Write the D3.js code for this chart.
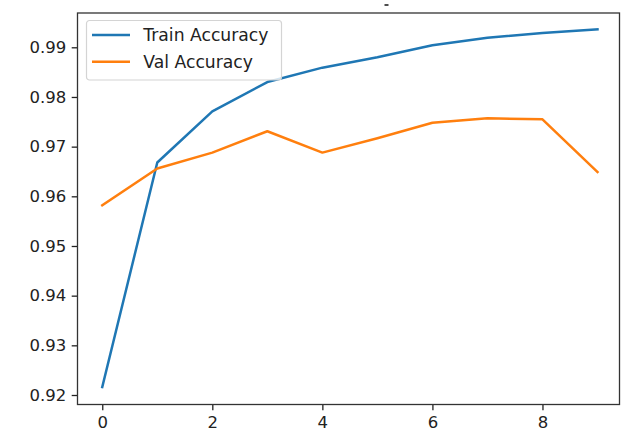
<!DOCTYPE html>
<html>
<head>
<meta charset="utf-8">
<script src="https://cdn.jsdelivr.net/npm/d3@7"></script>
<style>
  html, body { margin: 0; padding: 0; background: #fff; }
  svg { display: block; font-family: "DejaVu Sans", sans-serif; }
</style>
</head>
<body>
<svg id="chart" width="621" height="430"></svg>
<script>
// epochs and accuracy per epoch
const epochs = [0, 1, 2, 3, 4, 5, 6, 7, 8, 9];
const trainAcc = [0.9216, 0.9668, 0.9771, 0.9830, 0.9859, 0.9880, 0.9904, 0.9919, 0.9929, 0.9936];
const valAcc = [0.9582, 0.9656, 0.9688, 0.9731, 0.9688, 0.9717, 0.9748, 0.9757, 0.9755, 0.9649];
const xTicks = [0, 2, 4, 6, 8];
const yTicks = [0.92, 0.93, 0.94, 0.95, 0.96, 0.97, 0.98, 0.99];

const series = [
  { name: "Train Accuracy", values: trainAcc, color: "#1f77b4" },
  { name: "Val Accuracy", values: valAcc, color: "#ff7f0e" }
];

const svg = d3.select("#chart");
const plotLeft = 77.5, plotRight = 619.5, plotTop = 13, plotBottom = 404.5;
const fontSize = 16.5;

const x = d3.scaleLinear().domain([-0.45, 9.4]).range([plotLeft, plotRight]);
const y = d3.scaleLinear().domain([0.92, 0.99]).range([395, 47.3]);

// stray mark from a clipped title
svg.append("rect")
  .attr("x", 384.5).attr("y", 4.2)
  .attr("width", 4).attr("height", 1.6)
  .attr("fill", "#222");

// lines
const line = d3.line()
  .x((d, i) => x(epochs[i]))
  .y(d => y(d));

svg.selectAll(".series")
  .data(series)
  .enter()
  .append("path")
  .attr("class", "series")
  .attr("d", d => line(d.values))
  .attr("fill", "none")
  .attr("stroke", d => d.color)
  .attr("stroke-width", 2.5)
  .attr("stroke-linejoin", "round")
  .attr("stroke-linecap", "square");

// axes
const xAxis = d3.axisBottom(x)
  .tickValues(xTicks)
  .tickSize(5.8)
  .tickPadding(5.5)
  .tickFormat(d3.format("d"));

const yAxis = d3.axisLeft(y)
  .tickValues(yTicks)
  .tickSize(5.8)
  .tickPadding(5.5)
  .tickFormat(d3.format(".2f"));

const gx = svg.append("g")
  .attr("transform", `translate(0,${plotBottom})`)
  .call(xAxis);
const gy = svg.append("g")
  .attr("transform", `translate(${plotLeft},0)`)
  .call(yAxis);

[gx, gy].forEach(g => {
  g.select(".domain").remove();
  g.selectAll(".tick line").attr("stroke", "#222").attr("stroke-width", 1.3);
  g.selectAll(".tick text")
    .attr("fill", "#222")
    .attr("font-size", fontSize)
    .attr("font-family", "DejaVu Sans, sans-serif");
});

// axes frame
svg.append("rect")
  .attr("x", plotLeft).attr("y", plotTop)
  .attr("width", plotRight - plotLeft).attr("height", plotBottom - plotTop)
  .attr("fill", "none")
  .attr("stroke", "#333")
  .attr("stroke-width", 1.3);

// legend
const legend = svg.append("g").attr("transform", "translate(86.5,20.5)");
legend.append("rect")
  .attr("width", 195).attr("height", 59.5)
  .attr("rx", 3)
  .attr("fill", "#fff").attr("fill-opacity", 0.8)
  .attr("stroke", "#d4d4d4").attr("stroke-width", 1.2);

const items = legend.selectAll(".item")
  .data(series)
  .enter()
  .append("g")
  .attr("class", "item")
  .attr("transform", (d, i) => `translate(0,${14.5 + i * 26.7})`);

items.append("line")
  .attr("x1", 5.5).attr("x2", 43.5)
  .attr("stroke", d => d.color)
  .attr("stroke-width", 2.5);

items.append("text")
  .attr("x", 56.8)
  .attr("dy", "0.35em")
  .attr("font-size", 17.2)
  .attr("fill", "#222")
  .text(d => d.name);
</script>
</body>
</html>
